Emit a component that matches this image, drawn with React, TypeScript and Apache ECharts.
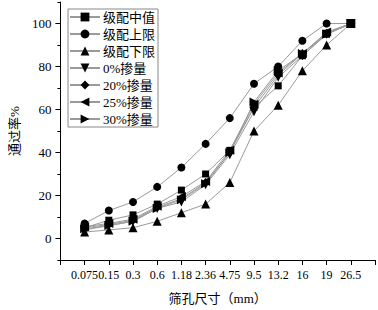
import React, { useEffect, useRef } from "react";
import * as echarts from "echarts";

const sieveSizes = ["0.075", "0.15", "0.3", "0.6", "1.18", "2.36", "4.75", "9.5", "13.2", "16", "19", "26.5"];
const seriesNames = ["级配中值", "级配上限", "级配下限", "0%掺量", "20%掺量", "25%掺量", "30%掺量"];
const midValues = [5, 8.5, 11, 16, 22.5, 30, 41, 61, 71, 85, 95, 100];
const upperValues = [7, 13, 17, 24, 33, 44, 56, 72, 80, 92, 100, 100];
const lowerValues = [3, 4, 5, 8, 12, 16, 26, 50, 62, 78, 90, 100];
const mix0Values = [4, 6, 8, 14, 17, 25, 39, 59, 75, 85, 95, 100];
const mix20Values = [5, 6.5, 8.5, 14.5, 18.5, 26, 40, 61, 76, 86, 95.5, 100];
const mix25Values = [5.5, 7, 9, 15, 19.5, 26.5, 41, 62.5, 77, 86, 96, 100];
const mix30Values = [4.5, 6, 8, 14, 18, 25.5, 40, 63.5, 78, 86, 95, 100];
const yTickValues = [0, 20, 40, 60, 80, 100];

const allValues = [midValues, upperValues, lowerValues, mix0Values, mix20Values, mix25Values, mix30Values];
const symbols = ["rect", "circle", "triangle", "triangle", "diamond", "triangle", "triangle"];
const rotations = [0, 0, 0, 180, 0, 90, -90];
const sizes = [7, 8, 9, 9, 9, 9, 9];

const FONT = "'Liberation Serif', 'Noto Sans CJK SC', serif";

export default function App() {
  const ref = useRef<HTMLDivElement>(null);
  useEffect(() => {
    if (!ref.current) return;
    document.body.style.margin = "0";
    const chart = echarts.init(ref.current, undefined, { renderer: "svg" });
    const series = seriesNames.map((name, i) => ({
      name,
      type: "line",
      data: allValues[i].map((v, j) => [j + 1, v]),
      symbol: symbols[i],
      symbolRotate: rotations[i],
      symbolSize: sizes[i],
      showAllSymbol: true,
      lineStyle: { color: "#9a9a9a", width: 1 },
      itemStyle: { color: "#000" },
      emphasis: { disabled: true },
    }));
    chart.setOption({
      animation: false,
      backgroundColor: "#fff",
      textStyle: { fontFamily: FONT },
      grid: { left: 51, right: 2, top: 2, bottom: 45 },
      legend: {
        orient: "vertical",
        left: 68,
        top: 9,
        borderColor: "#888",
        borderWidth: 1,
        padding: [1, 3, 1, 1],
        itemWidth: 30,
        itemHeight: 11,
        itemGap: 3,
        symbolRotate: "inherit",
        textStyle: { fontFamily: FONT, fontSize: 13, color: "#000", lineHeight: 14, padding: [0, 0, 0, -2] },
        data: seriesNames,
      },
      xAxis: {
        type: "value",
        min: 0,
        max: 13,
        interval: 1,
        name: "筛孔尺寸（mm）",
        nameLocation: "middle",
        nameGap: 32,
        nameTextStyle: { fontFamily: FONT, fontSize: 13, color: "#000" },
        axisLine: { show: true, onZero: false, lineStyle: { color: "#000", width: 1 } },
        axisTick: { show: true, length: 5, lineStyle: { color: "#000" } },
        axisLabel: {
          fontFamily: FONT,
          fontSize: 12,
          color: "#000",
          margin: 9,
          formatter: (v: number) => sieveSizes[v - 1] ?? "",
        },
        splitLine: { show: false },
      },
      yAxis: [
        {
          type: "value",
          min: -10,
          max: 110,
          interval: 10,
          name: "通过率%",
          nameLocation: "middle",
          nameGap: 38,
          nameRotate: 90,
          nameTextStyle: { fontFamily: FONT, fontSize: 13, color: "#000" },
          axisLine: { show: true, lineStyle: { color: "#000", width: 1 } },
          axisTick: { show: true, length: 5, customValues: yTickValues, lineStyle: { color: "#000" } },
          axisLabel: { fontFamily: FONT, fontSize: 13, color: "#000", margin: 9, customValues: yTickValues },
          splitLine: { show: false },
        },
        {
          type: "value",
          position: "left",
          min: -10,
          max: 110,
          interval: 10,
          axisLine: { show: false },
          axisTick: { show: true, length: 3, lineStyle: { color: "#000" } },
          axisLabel: { show: false },
          splitLine: { show: false },
        },
      ],
      series,
    });
    return () => chart.dispose();
  }, []);
  return <div ref={ref} style={{ width: 378, height: 310 }} />;
}
